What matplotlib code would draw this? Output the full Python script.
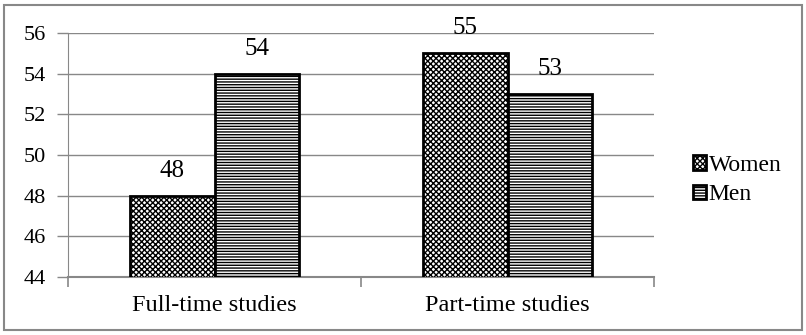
import numpy as np
import matplotlib.pyplot as plt
from matplotlib.patches import Rectangle

categories = ['Full-time studies', 'Part-time studies']
women = [48, 55]
men = [54, 53]
yticks = [44, 46, 48, 50, 52, 54, 56]

plt.rcParams['font.family'] = ['Liberation Serif', 'DejaVu Serif']
plt.rcParams['hatch.linewidth'] = 1.0

fig = plt.figure(figsize=(8.06, 3.35), dpi=100)
# outer frame around the whole chart
fig.patches.append(Rectangle((4 / 806, 5 / 335), 798 / 806, 325 / 335,
                             transform=fig.transFigure, fill=False,
                             edgecolor='#888888', linewidth=1.5))

ax = fig.add_axes([68 / 806, 58 / 335, 586 / 806, 244 / 335])

x = np.arange(len(categories))
w = 0.29
b1 = ax.bar(x - w / 2, women, w, color='white', edgecolor='black',
            hatch='xxxxxx', linewidth=2, label='Women', zorder=3)
b2 = ax.bar(x + w / 2, men, w, color='white', edgecolor='black',
            hatch='------', linewidth=2, label='Men', zorder=3)

for bars, vals in [(b1, women), (b2, men)]:
    for r, v in zip(bars, vals):
        ax.annotate(str(v), (r.get_x() + r.get_width() / 2, v),
                    xytext=(0, 10), textcoords='offset points',
                    ha='center', va='bottom', fontsize=18)

ax.set_ylim(44, 56)
ax.set_xlim(-0.5, 1.5)
ax.set_yticks(yticks)
ax.set_yticklabels([str(t) for t in yticks], fontsize=16)
ax.yaxis.grid(True, color='#888888', linewidth=1)
ax.set_axisbelow(True)

# category boundary ticks on the x axis
ax.set_xticks([-0.5, 0.5, 1.5])
ax.set_xticklabels([])
ax.set_xticks(x, minor=True)
ax.set_xticklabels(categories, minor=True, fontsize=17.5)
ax.tick_params(axis='x', which='minor', length=0, pad=13)
ax.tick_params(axis='x', which='major', length=7, color='#888888', width=1.2)
ax.tick_params(axis='y', length=8, color='#888888', width=1, pad=8)

for s in ['top', 'right']:
    ax.spines[s].set_visible(False)
ax.spines['left'].set_color('#888888')
ax.spines['bottom'].set_color('#888888')
ax.spines['bottom'].set_linewidth(1.5)

fig.legend(handles=[b1, b2], labels=['Women', 'Men'], loc='center left',
           bbox_to_anchor=(672 / 806, 0.463), frameon=False, fontsize=17,
           handlelength=0.55, handleheight=0.55, handletextpad=0.1,
           labelspacing=0.35)

fig.savefig('out.png', dpi=100)
